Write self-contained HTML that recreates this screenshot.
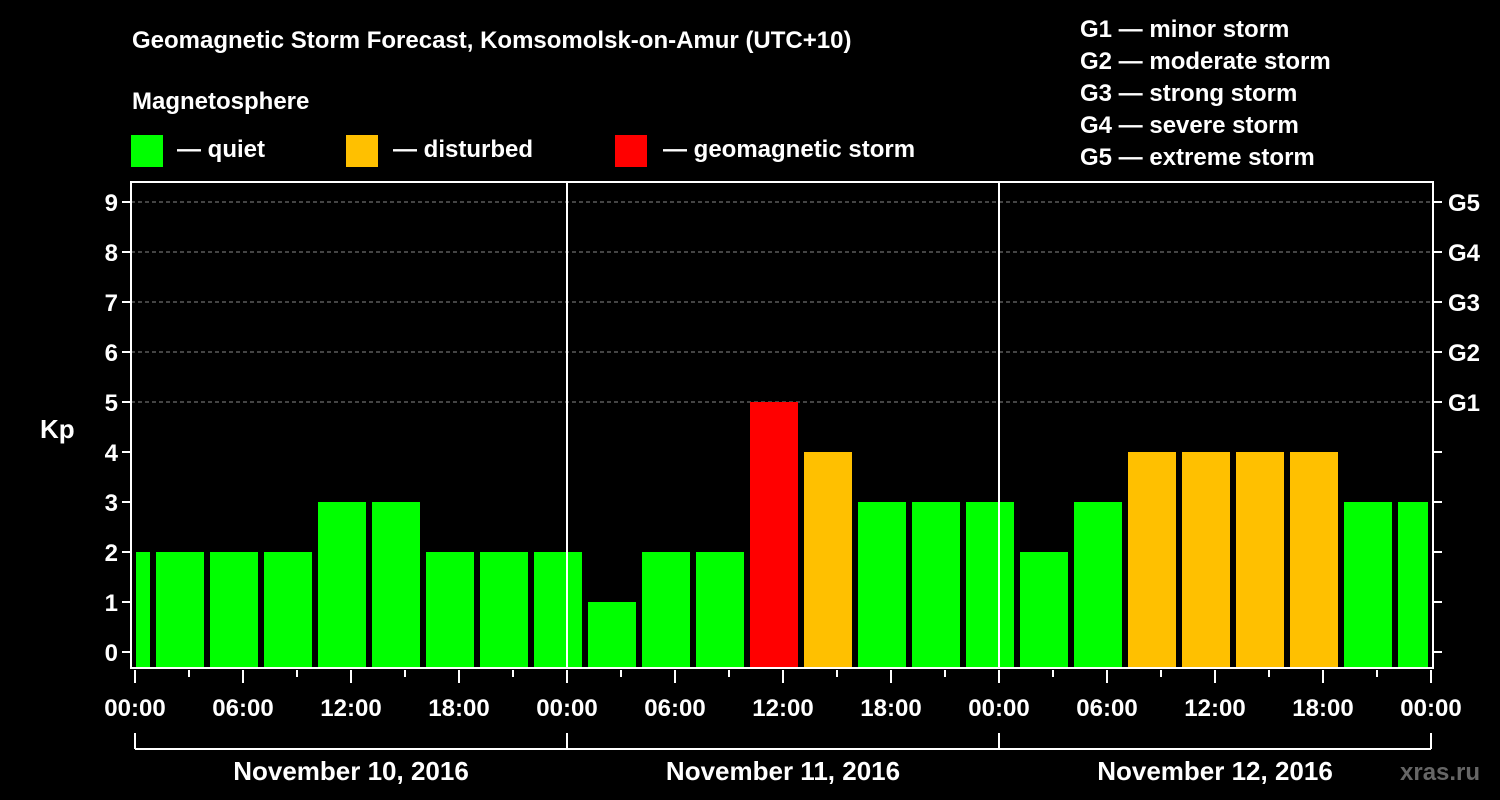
<!DOCTYPE html>
<html><head><meta charset="utf-8"><style>
body{margin:0;background:#000;}
svg{display:block;font-family:"Liberation Sans",Arial,sans-serif;font-weight:bold;}
</style></head><body>
<svg id="c" width="1500" height="800" xmlns="http://www.w3.org/2000/svg">
<rect width="1500" height="800" fill="#000"/>
<text x="132" y="48" fill="#fff" font-size="24">Geomagnetic Storm Forecast, Komsomolsk-on-Amur (UTC+10)</text>
<text x="132" y="109" fill="#fff" font-size="24">Magnetosphere</text>
<g><rect x="131" y="135" width="32" height="32" fill="#00ff00"/><text x="177" y="157" fill="#fff" font-size="24">— quiet</text></g>
<g><rect x="346" y="135" width="32" height="32" fill="#ffc000"/><text x="393" y="157" fill="#fff" font-size="24">— disturbed</text></g>
<g><rect x="615" y="135" width="32" height="32" fill="#ff0000"/><text x="663" y="157" fill="#fff" font-size="24">— geomagnetic storm</text></g>
<g fill="#fff" font-size="24">
<text x="1080" y="37">G1 — minor storm</text>
<text x="1080" y="69">G2 — moderate storm</text>
<text x="1080" y="101">G3 — strong storm</text>
<text x="1080" y="133">G4 — severe storm</text>
<text x="1080" y="165">G5 — extreme storm</text>
</g>
<text x="40" y="438" fill="#fff" font-size="26">Kp</text>
<text x="1400" y="780" fill="#666" font-size="24">xras.ru</text>
<g id="plot"></g>
</svg>
<script>
const kpValues=[2,2,2,2,3,3,2,2,2,1,2,2,5,4,3,3,3,2,3,4,4,4,4,3,3];
const yTicks=[0,1,2,3,4,5,6,7,8,9];
const gLabels=["G1","G2","G3","G4","G5"];
const gLevels=[5,6,7,8,9];
const xTickLabels=["00:00","06:00","12:00","18:00","00:00","06:00","12:00","18:00","00:00","06:00","12:00","18:00","00:00"];
const dayLabels=["November 10, 2016","November 11, 2016","November 12, 2016"];
const X0=131,X1=1433,T0=135,PX_H=18,Y0=652,PX_K=50,YB=668,YT=182;
const xs=h=>T0+h*PX_H, ys=k=>Y0-k*PX_K;
const g=document.getElementById('plot');
const NS="http://www.w3.org/2000/svg";
function mk(t,a,p){const e=document.createElementNS(NS,t);for(const k in a)e.setAttribute(k,a[k]);(p||g).appendChild(e);return e;}
function col(v){return v>=5?"#ff0000":v>=4?"#ffc000":"#00ff00";}
// grid
gLevels.forEach(k=>{const l=mk('line',{x1:X0,x2:X1,y1:ys(k),y2:ys(k),stroke:'#888','stroke-dasharray':'4,3','stroke-width':1});

});
// bars
kpValues.forEach((v,i)=>{
 let s=i===0?0:1+(i-1)*3, e=Math.min(1+i*3,72);
 let xa=xs(s)+(i===0?1:3), xb=xs(e)-(e===72?3:3);
 const r=mk('rect',{x:xa,y:ys(v),width:xb-xa,height:YB-ys(v),fill:col(v)});
 
 
});
// day separators
[24,48].forEach(h=>{const l=mk('line',{x1:xs(h),x2:xs(h),y1:YT,y2:YB,stroke:'#fff','stroke-width':2});

});
// frame
const f=mk('rect',{x:X0,y:YT,width:X1-X0,height:YB-YT,fill:'none',stroke:'#fff','stroke-width':2});


// y ticks
yTicks.forEach(k=>{
 mk('line',{x1:X0-9,x2:X0,y1:ys(k),y2:ys(k),stroke:'#fff','stroke-width':2});
 mk('line',{x1:X1,x2:X1+9,y1:ys(k),y2:ys(k),stroke:'#fff','stroke-width':2});
 const t=mk('text',{x:X0-13,y:ys(k)+9,fill:'#fff','font-size':24,'text-anchor':'end'});t.textContent=k;
 
 
});
gLabels.forEach((s,i)=>{const t=mk('text',{x:X1+15,y:ys(gLevels[i])+9,fill:'#fff','font-size':24});t.textContent=s;
 
 });
// x ticks
for(let h=0;h<=72;h+=3){const maj=h%6===0;mk('line',{x1:xs(h),x2:xs(h),y1:YB+2,y2:YB+(maj?15:9),stroke:'#fff','stroke-width':2});}
xTickLabels.forEach((s,i)=>{const t=mk('text',{x:xs(i*6),y:716,fill:'#fff','font-size':24,'text-anchor':'middle'});t.textContent=s;
 
 });
// bracket
mk('line',{x1:xs(0),x2:xs(72),y1:749,y2:749,stroke:'#fff','stroke-width':2});
[0,24,48,72].forEach(h=>mk('line',{x1:xs(h),x2:xs(h),y1:733,y2:749,stroke:'#fff','stroke-width':2}));
dayLabels.forEach((s,i)=>{const t=mk('text',{x:xs(i*24+12),y:780,fill:'#fff','font-size':26,'text-anchor':'middle'});t.textContent=s;
 
 });
</script>
</body></html>
